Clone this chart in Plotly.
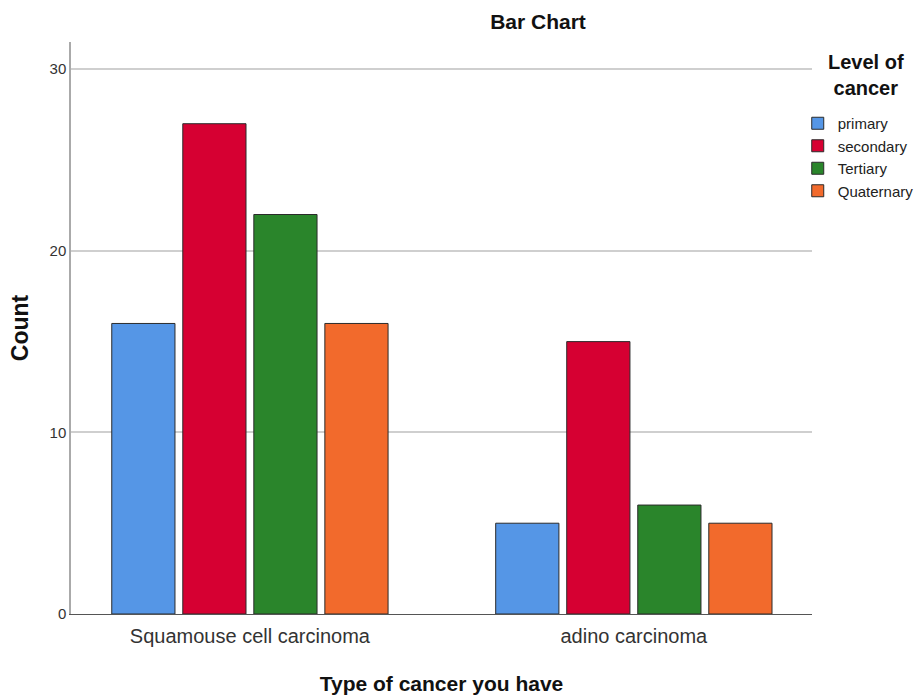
import plotly.graph_objects as go

categories = ["Squamouse cell carcinoma", "adino carcinoma"]
levels = ["primary", "secondary", "Tertiary", "Quaternary"]
counts = {
    "primary": [16, 5],
    "secondary": [27, 15],
    "Tertiary": [22, 6],
    "Quaternary": [16, 5],
}
colors = ["#5596E6", "#D60032", "#2A852B", "#F26A2C"]
yticks = [0, 10, 20, 30]

fig = go.Figure()
xpos = list(range(len(categories)))
for lvl, col in zip(levels, colors):
    fig.add_trace(go.Bar(
        x=xpos, y=counts[lvl], name=lvl,
        marker=dict(color=col, line=dict(color="#2b2b2b", width=1)),
    ))

fig.update_layout(
    width=918, height=696,
    margin=dict(l=71, r=106, t=42, b=82, autoexpand=False),
    paper_bgcolor="white", plot_bgcolor="white",
    barmode="group", bargap=0.26, bargroupgap=0.11,
    font=dict(family="Liberation Sans, Arial, sans-serif", color="#222"),
    title=dict(text="<b>Bar Chart</b>", xref="container", x=538/918, xanchor="center",
               yref="container", y=1 - 22/696, yanchor="middle",
               font=dict(size=21, color="#111")),
    legend=dict(
        xref="container", yref="container",
        x=0.869, xanchor="left", y=1 - 107/696, yanchor="top",
        font=dict(size=15, color="#222"),
        tracegroupgap=0, itemwidth=30,
        bgcolor="rgba(0,0,0,0)",
    ),
    annotations=[dict(
        text="<b>Level of<br>cancer</b>", xref="paper", yref="paper",
        x=(866 - 71) / 741, y=(614 - 75) / 572, xanchor="center", yanchor="middle",
        showarrow=False, font=dict(size=20, color="#111"), align="center",
    )],
    xaxis=dict(
        range=[-0.466, 1.464], tickvals=xpos, ticktext=categories,
        showline=True, linecolor="#555", linewidth=1, showgrid=False, zeroline=False,
        tickfont=dict(size=20, color="#333"), ticks="", ticklabelstandoff=4,
        title=dict(text="<b>Type of cancer you have</b>", font=dict(size=21, color="#111"), standoff=30),
    ),
    yaxis=dict(
        range=[0, 31.5], tickvals=yticks,
        showline=True, linecolor="#aaa", linewidth=1.5,
        showgrid=True, gridcolor="#cfcfcf", gridwidth=1.5, zeroline=False,
        tickfont=dict(size=15, color="#333"), ticks="",
        title=dict(text="<b>Count</b>", font=dict(size=23, color="#111"), standoff=15),
    ),
)

fig.write_html("out.html", config={"displayModeBar": False},
               post_script="document.body.style.margin='0';")
